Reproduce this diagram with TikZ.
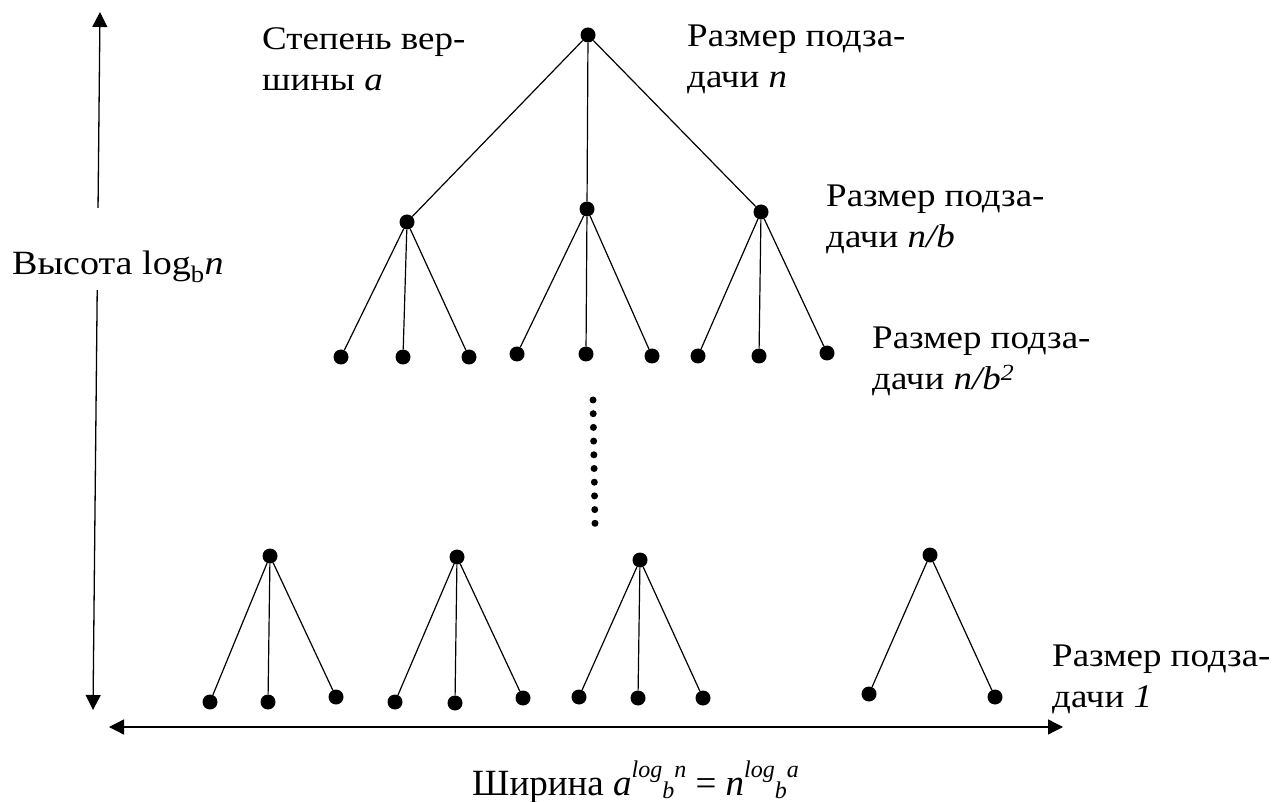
\documentclass[tikz,border=0pt]{standalone}
\usepackage{fontspec}
\setmainfont{Liberation Serif}
\newfontfamily\lblfont{Liberation Serif}[FakeStretch=1.12]
\usetikzlibrary{arrows.meta}
\newcommand\smit[1]{{\fontsize{24}{24}\selectfont\textit{#1}}}
\begin{document}
\begin{tikzpicture}[x=1pt,y=-1pt,
  vtx/.style={circle,fill=black,inner sep=0pt,minimum size=15pt},
  edge/.style={line width=1.2pt},
  arr/.style={line width=1.3pt,{Triangle[length=15pt,width=15pt]}-{Triangle[length=15pt,width=15pt]}},
  lbl/.style={anchor=north west,inner sep=0pt,align=left,font=\lblfont\fontsize{33}{41}\selectfont},
  smalldot/.style={circle,fill=black,inner sep=0pt,minimum size=7pt}]
\useasboundingbox (0,0) rectangle (1286,802);
% root and first level
\node[vtx] (r) at (588,35) {};
\node[vtx] (a1) at (407,222) {};
\node[vtx] (a2) at (587,209) {};
\node[vtx] (a3) at (761,212) {};
% second level
\node[vtx] (b1) at (341,357) {};
\node[vtx] (b2) at (403,357) {};
\node[vtx] (b3) at (469,357) {};
\node[vtx] (b4) at (517,354) {};
\node[vtx] (b5) at (586,354) {};
\node[vtx] (b6) at (652,356) {};
\node[vtx] (b7) at (698,356) {};
\node[vtx] (b8) at (759,356) {};
\node[vtx] (b9) at (827,353) {};
\foreach \p/\c in {r/a1,r/a2,r/a3,a1/b1,a1/b2,a1/b3,a2/b4,a2/b5,a2/b6,a3/b7,a3/b8,a3/b9}
  \draw[edge] (\p) -- (\c);
% vertical dots
\foreach \i in {0,...,9}
  \node[smalldot] (d\i) at ({593+0.22*\i},{400+13.7*\i}) {};
% bottom level
\node[vtx] (c1) at (270,556) {};
\node[vtx] (c2) at (457,557) {};
\node[vtx] (c3) at (640,560) {};
\node[vtx] (c4) at (930,555) {};
\node[vtx] (e1) at (210,702) {};
\node[vtx] (e2) at (268,702) {};
\node[vtx] (e3) at (336,697) {};
\node[vtx] (e4) at (395,702) {};
\node[vtx] (e5) at (455,703) {};
\node[vtx] (e6) at (523,698) {};
\node[vtx] (e7) at (579,697) {};
\node[vtx] (e8) at (638,698) {};
\node[vtx] (e9) at (703,698) {};
\node[vtx] (e10) at (869,694) {};
\node[vtx] (e11) at (995,697) {};
\foreach \p/\c in {c1/e1,c1/e2,c1/e3,c2/e4,c2/e5,c2/e6,c3/e7,c3/e8,c3/e9,c4/e10,c4/e11}
  \draw[edge] (\p) -- (\c);
% arrows
\coordinate (vt) at (100,12);
\coordinate (vb) at (93,710);
\draw[arr] (vt) -- (vb);
\coordinate (hl) at (109,727);
\coordinate (hr) at (1063,727);
\draw[arr] (hl) -- (hr);
% labels
\node[fill=white,anchor=base west,inner xsep=2pt,inner ysep=0pt,text height=67pt,text depth=15pt,font=\lblfont\fontsize{34}{40}\selectfont] (h) at (10,275) {Высота log\textsubscript{b}\textit{n}};
\node[lbl] (l0) at (262,27) {Степень вер-\\шины \textit{a}};
\node[lbl] (l1) at (687,25) {Размер подза-\\дачи \textit{n}};
\node[lbl] (l2) at (826,185) {Размер подза-\\дачи \textit{n/b}};
\node[lbl] (l3) at (872,327) {Размер подза-\\дачи \textit{n/b}\textsuperscript{\textit{2}}};
\node[lbl] (l4) at (1052,645) {Размер подза-\\дачи \textit{1}};
\node[anchor=base west,inner sep=0pt,font=\fontsize{37}{40}\selectfont] (w) at (472,795)
  {Ширина \textit{a}\raisebox{18pt}{\smit{log}}\raisebox{-3pt}{\smit{b}}\raisebox{18pt}{\smit{n}} = \textit{n}\raisebox{18pt}{\smit{log}}\raisebox{-3pt}{\smit{b}}\raisebox{18pt}{\smit{a}}};
\end{tikzpicture}
\end{document}
